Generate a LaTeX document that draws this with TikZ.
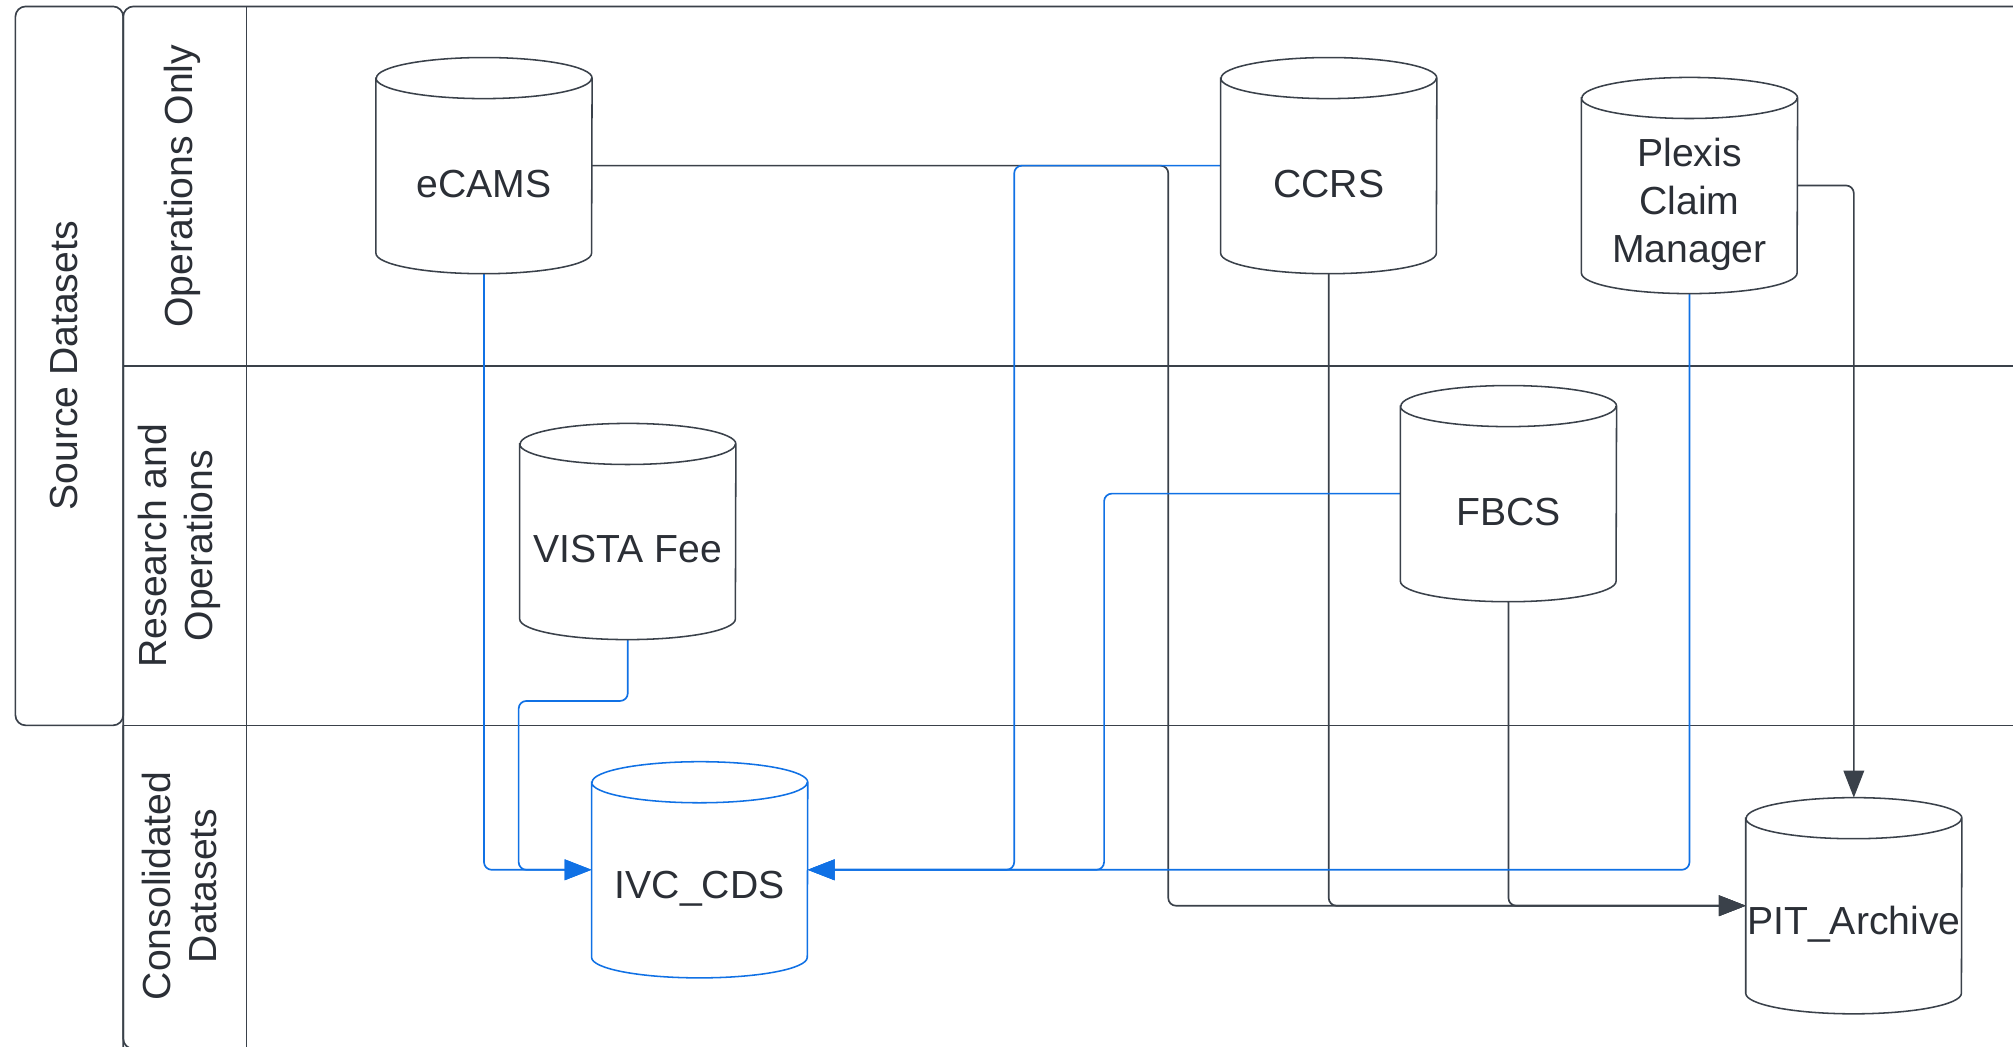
\documentclass[tikz,border=0pt]{standalone}
\usepackage{fontspec}
\setmainfont{Liberation Sans}
\usetikzlibrary{arrows.meta,calc}
\definecolor{lnblue}{HTML}{1071E5}
\definecolor{lngray}{HTML}{3A414A}
\definecolor{txtc}{HTML}{2B2F36}
\newcommand\dbshape[2][lngray]{%
  \filldraw[#1,line width=1.2pt,fill=white]
    ($(#2.north west)+(0,16)$) -- ($(#2.south west)+(0,-16)$)
    arc[start angle=180,end angle=360,x radius=84pt,y radius=16pt]
    -- ($(#2.north east)+(0,16)$)
    arc[start angle=0,end angle=180,x radius=84pt,y radius=16pt] -- cycle
    ($(#2.north west)+(0,16)$)
    arc[start angle=180,end angle=360,x radius=84pt,y radius=16pt];}
\begin{document}
\begin{tikzpicture}[x=1pt,y=-1pt,
  frame/.style={draw=lngray,line width=1.3pt},
  dbbox/.style={rectangle,draw=none,inner sep=0pt,minimum width=168pt,minimum height=168pt},
  dblabel/.style={text=txtc,font=\fontsize{30.5}{37.5}\selectfont,align=center,inner sep=0pt},
  lanelabel/.style={text=txtc,font=\fontsize{30.5}{36}\selectfont,align=center,inner sep=0pt,rotate=90},
  blueflow/.style={draw=lnblue,line width=1.3pt,rounded corners=6pt,-{Triangle[length=21pt,width=16pt]}},
  grayflow/.style={draw=lngray,line width=1.3pt,rounded corners=6pt,-{Triangle[length=21pt,width=16pt]}}]
\useasboundingbox (0,0) rectangle (1568,815);
\fill[white] (0,0) rectangle (1568,815);
% swimlane frame
\draw[frame,rounded corners=8pt] (12,5) rectangle (96,565);
\draw[frame,rounded corners=8pt] (96,840) -- (96,5) -- (1620,5);
\draw[frame,rounded corners=8pt] (96,565) -- (96,817) -- (200,817);
\draw[frame] (96,285) -- (1620,285);
\draw[frame] (96,565) -- (1620,565);
\draw[frame] (192,5) -- (192,840);
\node[lanelabel] (pool) at (50,285) {Source Datasets};
\node[lanelabel] (lane1) at (142,145) {Operations Only};
\node[lanelabel] (lane2) at (140,425) {Research and\\Operations};
\node[lanelabel] (lane3) at (140,690) {Consolidated\\Datasets};
% nodes
\node[dbbox] (ecams) at (377,129) {};
\node[dbbox] (ccrs) at (1035,129) {};
\node[dbbox] (plexis) at (1316,144.5) {};
\node[dbbox] (vista) at (489,414) {};
\node[dbbox] (fbcs) at (1175,384.5) {};
\node[dbbox] (ivc) at (545,677.5) {};
\node[dbbox] (pit) at (1444,705.5) {};
\coordinate (vbend) at (404,546);
\coordinate (cbend) at (790,677.5);
\coordinate (fbend) at (860,677.5);
\coordinate (ebend) at (910,705.5);
% gray connectors
\draw[grayflow] (ecams.east) -| (ebend) -- (pit.west);
\draw[grayflow] (ccrs.south) |- (pit.west);
\draw[grayflow] (fbcs.south) |- (pit.west);
\draw[grayflow] (plexis.east) -| (pit.north);
% blue connectors
\draw[blueflow] (ecams.south) |- (ivc.west);
\draw[blueflow] (vista.south) |- (vbend) |- (ivc.west);
\draw[blueflow] (ccrs.west) -| (cbend) -- (ivc.east);
\draw[blueflow] (fbcs.west) -| (fbend) -- (ivc.east);
\draw[blueflow] (plexis.south) |- (ivc.east);
% cylinders
\dbshape{ecams}
\dbshape{ccrs}
\dbshape{plexis}
\dbshape{vista}
\dbshape{fbcs}
\dbshape[lnblue]{ivc}
\dbshape{pit}
\node[dblabel] (ecamsT) at (377,143) {eCAMS};
\node[dblabel] (ccrsT) at (1035,143) {CCRS};
\node[dblabel] (plexisT) at (1316,159) {Plexis\\Claim\\Manager};
\node[dblabel] (vistaT) at (489,428) {VISTA Fee};
\node[dblabel] (fbcsT) at (1175,399) {FBCS};
\node[dblabel] (ivcT) at (545,692) {IVC\_CDS};
\node[dblabel] (pitT) at (1444,720) {PIT\_Archive};
\end{tikzpicture}
\end{document}
